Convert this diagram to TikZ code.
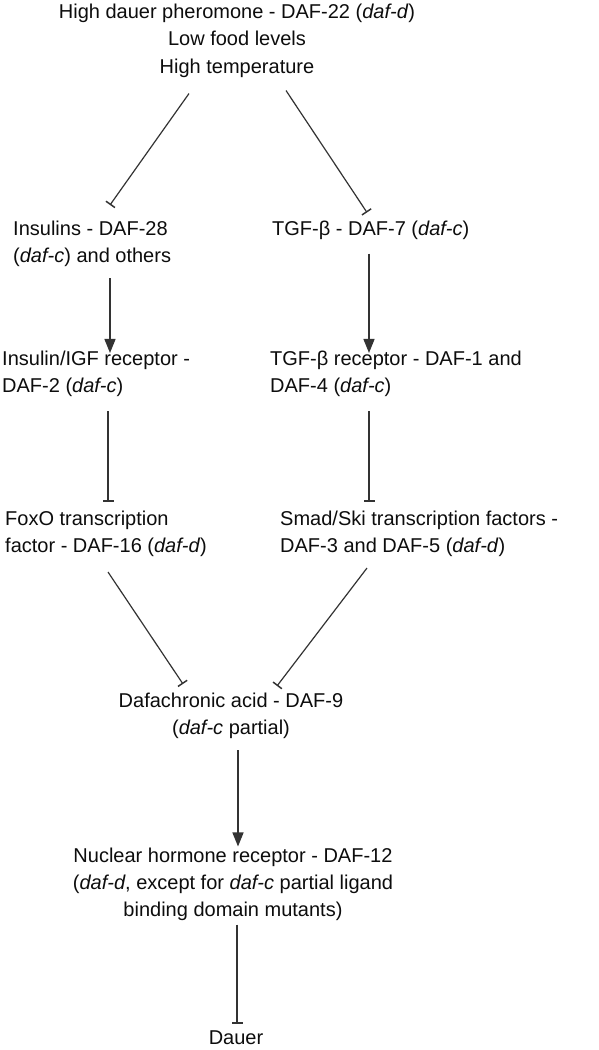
\documentclass[tikz,border=0pt]{standalone}
\usepackage{fontspec}
\setmainfont{Liberation Sans}
\usetikzlibrary{arrows.meta,calc}
\begin{document}
\begin{tikzpicture}[x=1pt,y=-1pt,
  txt/.style={inner sep=0pt, font=\fontsize{20}{27}\selectfont, text=black!95},
  lt/.style={txt, align=left, anchor=west},
  ct/.style={txt, align=center},
  act/.style={draw=black!80, line width=1.4pt, -{Triangle[length=14pt,width=11pt]}},
  inh/.style={draw=black!80, line width=1.2pt, -{Bar[width=11pt,line width=1.5pt]}}]
\useasboundingbox[fill=white] (0,0) rectangle (599,1050);
\node[ct, font=\fontsize{20}{27.5}\selectfont] (top) at (237,40.5) {High dauer pheromone - DAF-22 (\textit{daf-d})\\Low food levels\\High temperature};
\node[lt] (ins) at (13,244) {Insulins - DAF-28\\(\textit{daf-c}) and others};
\node[lt] (tgf) at (272,230) {TGF-β - DAF-7 (\textit{daf-c})};
\node[lt] (igfr) at (2,374) {Insulin/IGF receptor -\\DAF-2 (\textit{daf-c})};
\node[lt] (tgfr) at (270,374) {TGF-β receptor - DAF-1 and\\DAF-4 (\textit{daf-c})};
\node[lt] (foxo) at (5,534) {FoxO transcription\\factor - DAF-16 (\textit{daf-d})};
\node[lt] (smad) at (280,534) {Smad/Ski transcription factors -\\DAF-3 and DAF-5 (\textit{daf-d})};
\node[ct] (daf9) at (231,716) {Dafachronic acid - DAF-9\\(\textit{daf-c} partial)};
\node[ct] (daf12) at (233,884) {Nuclear hormone receptor - DAF-12\\(\textit{daf-d}, except for \textit{daf-c} partial ligand\\binding domain mutants)};
\node[ct] (dauer) at (236,1038) {Dauer};
\draw[inh] ($(top.south -| 189,0)+(0,16)$) -- ($(ins.north -| 110,0)+(0,-16)$);
\draw[inh] ($(top.south -| 286,0)+(0,13)$) -- ($(tgf.north -| 367,0)+(0,-8)$);
\draw[act] ($(ins.south -| 110,0)+(0,11)$) -- ($(igfr.north -| 110,0)+(0,2)$);
\draw[act] ($(tgf.south -| 369,0)+(0,14)$) -- ($(tgfr.north -| 369,0)+(0,2)$);
\draw[inh] ($(igfr.south -| 108,0)+(0,14)$) -- ($(foxo.north -| 108,0)+(0,-9)$);
\draw[inh] ($(tgfr.south -| 369,0)+(0,14)$) -- ($(smad.north -| 369,0)+(0,-9)$);
\draw[inh] ($(foxo.south -| 108,0)+(0,15)$) -- ($(daf9.north -| 183,0)+(0,-9)$);
\draw[inh] ($(smad.south -| 367,0)+(0,11)$) -- ($(daf9.north -| 277,0)+(0,-7)$);
\draw[act] ($(daf9.south -| 238,0)+(0,11)$) -- ($(daf12.north -| 238,0)+(0,-1)$);
\draw[inh] ($(daf12.south -| 237,0)+(0,4)$) -- ($(dauer.north -| 237,0)+(0,-7)$);
\end{tikzpicture}
\end{document}
